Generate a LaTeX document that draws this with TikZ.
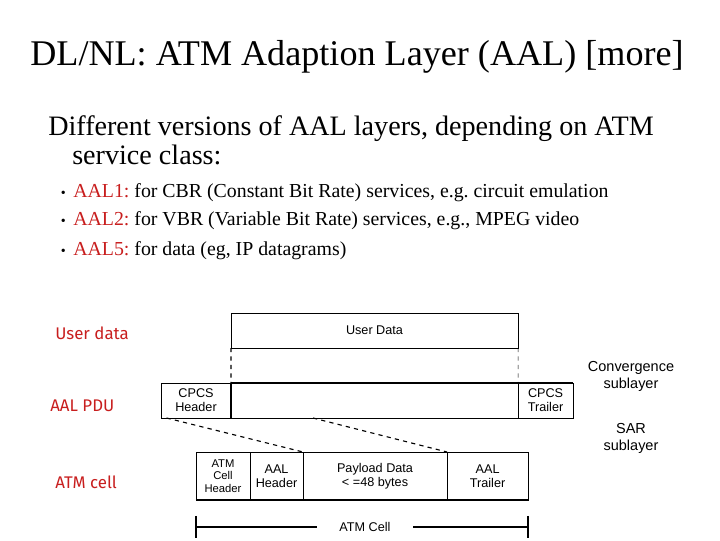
\documentclass[tikz,border=0pt]{standalone}
\usepackage{fontspec}
\setmainfont{Liberation Serif}
\newfontfamily\diagfont{Liberation Sans}
\newfontfamily\handfont{Fira Sans}
\usetikzlibrary{positioning,calc}
\frenchspacing

\definecolor{aalred}{RGB}{200,30,30}

\begin{document}
\begin{tikzpicture}[
    x=0.025cm, y=-0.025cm,
    title/.style={font=\fontsize{25.7}{30}\selectfont},
    body/.style={anchor=base west, inner sep=0pt, font=\fontsize{20}{24}\selectfont},
    item/.style={anchor=base west, inner sep=0pt, font=\fontsize{14.1}{17}\selectfont},
    tag/.style={anchor=west, inner sep=0pt, text=aalred, font=\handfont\fontsize{12}{14}\selectfont},
    box/.style={rectangle, draw=black, thin, outer sep=0pt, inner sep=1pt,
                align=center, font=\diagfont\fontsize{9}{10}\selectfont},
    note/.style={align=center, font=\diagfont\fontsize{10.3}{12}\selectfont},
    dline/.style={dashed, thick},
]
\useasboundingbox (0,0) rectangle (720,540);

% --- Title and text ---
\node[title] (ttl) at (357,57) {DL/NL: ATM Adaption Layer (AAL) [more]};
\node[body] (l1) at (48,135) {Different versions of AAL layers, depending on ATM};
\node[body] (l2) at (72,164) {service class:};
\node[item] (b1) at (73,197) {\textcolor{aalred}{AAL1:} for CBR (Constant Bit Rate) services, e.g. circuit emulation};
\node[item] (b2) at (73,225) {\textcolor{aalred}{AAL2:} for VBR (Variable Bit Rate) services, e.g., MPEG video};
\node[item] (b3) at (73,255) {\textcolor{aalred}{AAL5:} for data (eg, IP datagrams)};
\foreach \n in {b1,b2,b3}
  \node[anchor=base east, inner sep=0pt, font=\fontsize{10}{12}\selectfont] at ([xshift=-5pt]\n.base west) {\textbullet};

% --- Row labels ---
\node[tag] (tuser) at (55,333) {User data};
\node[tag] (tpdu) at (50,406) {AAL PDU};
\node[tag] (tcell) at (55,482) {ATM cell};

% --- User data ---
\node[box, minimum width=7.175cm, minimum height=0.875cm] (user) at (374.5,330.5) {User Data};

% --- AAL PDU ---
\node[box, minimum width=1.75cm, minimum height=0.875cm] (hdr) at (196,400.5) {CPCS\\Header};
\node[box, minimum width=7.175cm, minimum height=0.875cm, right=0pt of hdr] (mid) {};
\node[box, minimum width=1.375cm, minimum height=0.875cm, right=0pt of mid] (trl) {CPCS\\Trailer};
\draw[very thick] (hdr.north east) -- (trl.north east);
\draw[very thick] (hdr.north east) -- (hdr.south east);

\draw[dline, thick] (user.south west) -- (mid.north west);
\draw[dashed] (user.south east) -- (mid.north east);

% --- ATM cell ---
\node[box, minimum width=1.35cm, minimum height=1.2cm, font=\diagfont\fontsize{8}{9}\selectfont] (chdr) at (223,476) {ATM\\Cell\\Header};
\node[box, minimum width=1.325cm, minimum height=1.2cm, right=0pt of chdr] (ahdr) {AAL\\Header};
\node[box, minimum width=3.6cm, minimum height=1.2cm, right=0pt of ahdr] (pay) {Payload Data\\< =48 bytes};
\node[box, minimum width=2.025cm, minimum height=1.2cm, right=0pt of pay] (atrl) {AAL\\Trailer};
\draw[very thick] (chdr.south west) -- (atrl.south east);

\draw[dline] ([xshift=4pt]hdr.south west) -- (ahdr.north east);
\draw[dline] ([xshift=2.05cm]mid.south west) -- (pay.north east);

% --- Sublayers ---
\node[note] (conv) at (631,376) {Convergence\\sublayer};
\node[note] (sar) at (631,438) {SAR\\sublayer};

% --- ATM cell span ---
\coordinate (sl) at (196,527);
\coordinate (sr) at (528,527);
\node[box, draw=none, inner xsep=16pt] (span) at (365,527) {ATM Cell};
\draw[thick] ([yshift=8pt]sl) -- ([yshift=-8pt]sl);
\draw[thick] ([yshift=8pt]sr) -- ([yshift=-8pt]sr);
\draw[very thick] (sl) -- (span.west);
\draw[very thick] (span.east) -- (sr);

\end{tikzpicture}
\end{document}
